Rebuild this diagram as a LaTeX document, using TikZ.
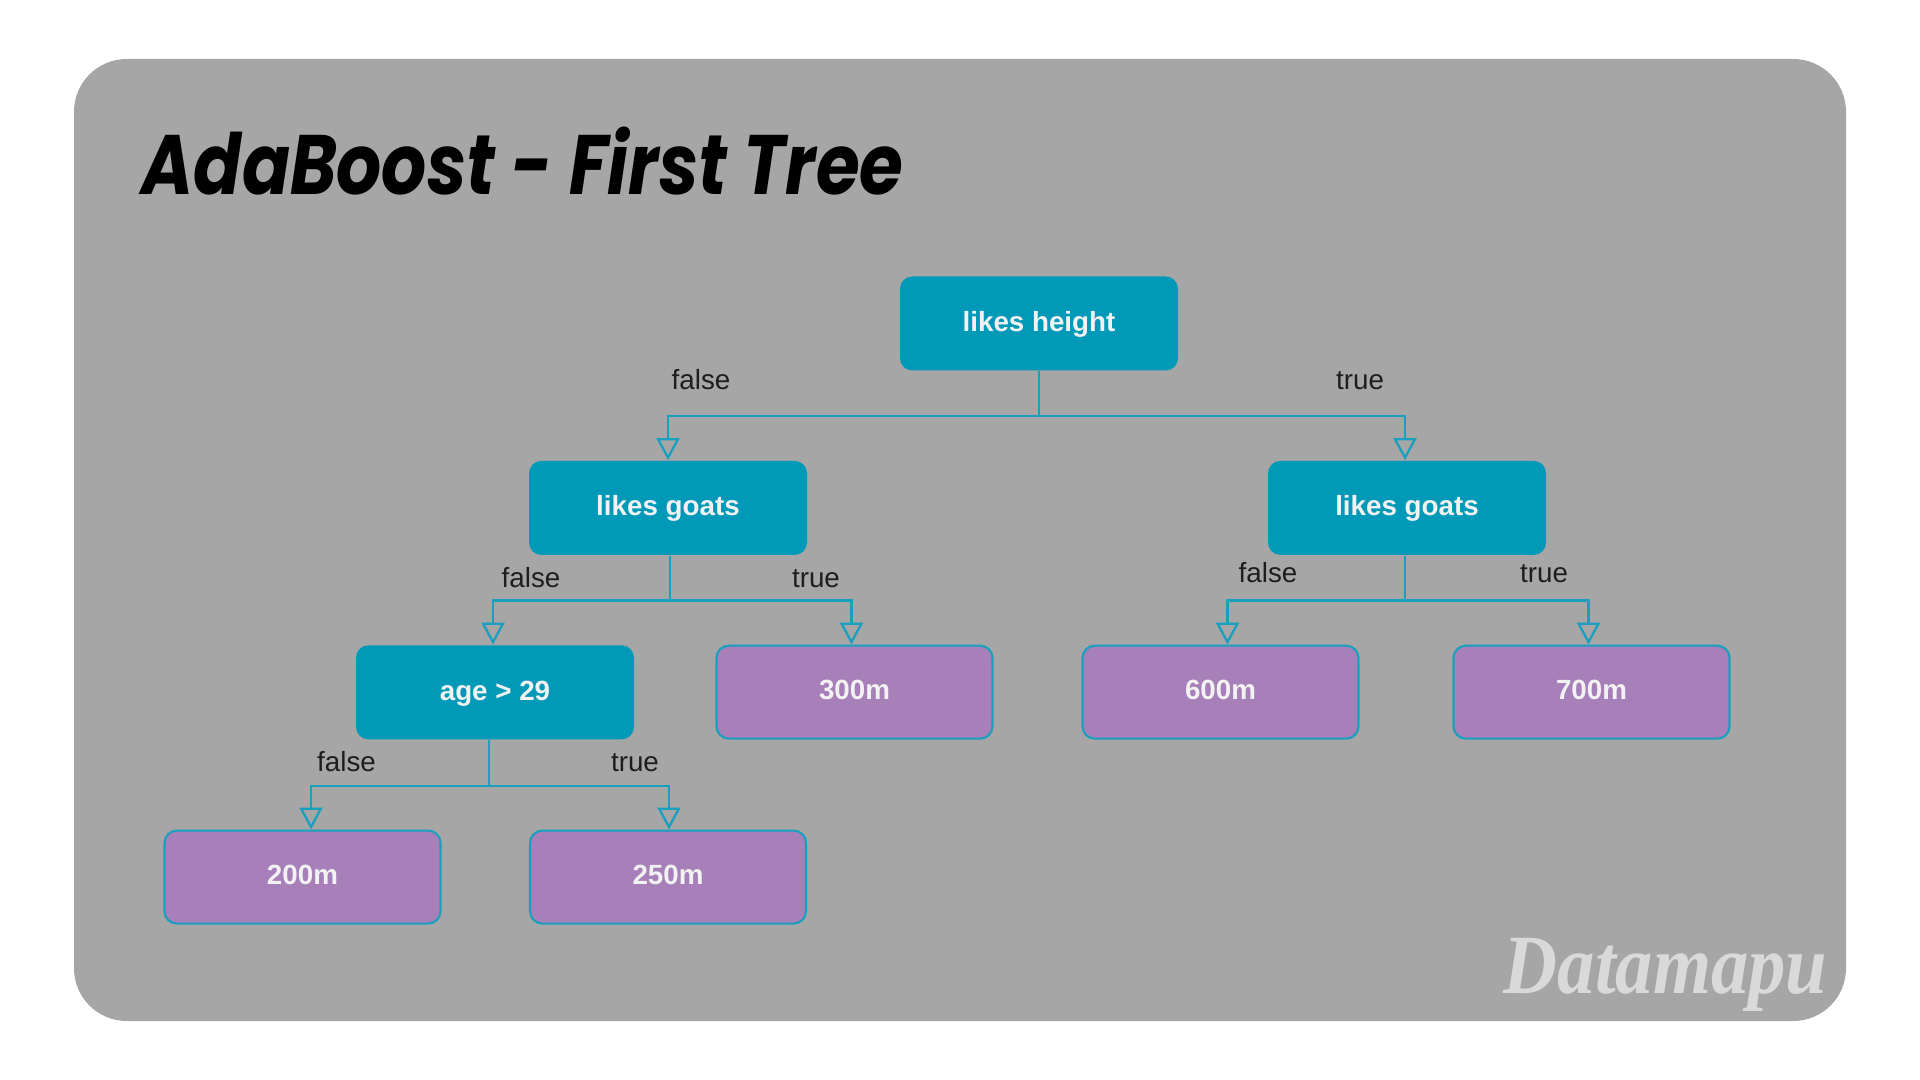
\documentclass[tikz,border=0pt]{standalone}
\usepackage{fontspec}
\usepackage{xcolor}
\setmainfont{Liberation Sans}
\newfontfamily\titlefont[FakeStretch=0.84]{Poppins}
\newfontfamily\brandfont[FakeStretch=0.885]{Liberation Serif}
\usetikzlibrary{
    positioning,
    arrows.meta
}
\definecolor{PanelGray}{RGB}{166,166,166}
\definecolor{SplitTeal}{RGB}{0,154,184}
\definecolor{EdgeTeal}{RGB}{24,160,190}
\definecolor{LeafPurple}{RGB}{167,127,185}
\definecolor{BrandGray}{RGB}{217,217,217}
\definecolor{LabelDark}{RGB}{30,30,30}

\begin{document}
\begin{tikzpicture}[
    split/.style={rectangle, rounded corners=3.5pt, fill=SplitTeal, text=white!95!black, align=center, minimum width=2.78cm, minimum height=0.94cm, inner sep=0pt, text height=5.7pt, text depth=1.3pt, font=\fontsize{7.9}{9.5}\selectfont\bfseries},
    leaf/.style={split, draw=EdgeTeal, line width=0.6pt, fill=LeafPurple, minimum width=2.76cm, minimum height=0.93cm},
    edge/.style={color=EdgeTeal, line width=0.65pt, -{Triangle[open, length=2.2mm, width=2.3mm]}},
    lbl/.style={font=\fontsize{7.9}{9.5}\selectfont, text=LabelDark, inner sep=0pt},
]
\useasboundingbox (0,0) rectangle (19.2,-10.8);
\fill[PanelGray, rounded corners=15pt] (0.74,-0.59) rectangle (18.46,-10.21);

\node[anchor=base west, inner sep=0pt, font=\fontsize{24}{28}\titlefont\bfseries\itshape] (title) at (1.41,-1.95) {AdaBoost - First Tree};
\node[anchor=base east, inner sep=0pt, text=BrandGray, font=\fontsize{24}{28}\brandfont\bfseries\itshape] (brand) at (18.28,-9.93) {Datamapu};

% tree nodes
\node[split] (root) at (10.39,-3.235) {likes height};
\node[split, below=0.89cm of root, xshift=-3.71cm] (goatsl) {likes goats};
\node[split, below=0.89cm of root, xshift=3.68cm] (goatsr) {likes goats};
\node[split, below=0.89cm of goatsl, xshift=-1.73cm] (age) {age > 29};
\node[leaf, below=0.89cm of goatsl, xshift=1.865cm] (m300) {300m};
\node[leaf, below=0.89cm of goatsr, xshift=-1.865cm] (m600) {600m};
\node[leaf, below=0.89cm of goatsr, xshift=1.845cm] (m700) {700m};
\node[leaf, below=0.895cm of age, xshift=-1.925cm] (m200) {200m};
\node[leaf, below=0.895cm of age, xshift=1.73cm] (m250) {250m};

% edges
\draw[edge] (root.south) -- ++(0,-0.45) -| (goatsl.north);
\draw[edge] (root.south) -- ++(0,-0.45) -| ([xshift=-0.02cm]goatsr.north);
\draw[edge] ([xshift=0.02cm]goatsl.south) -- ++(0,-0.45) -| ([xshift=-0.02cm]age.north);
\draw[edge] ([xshift=0.02cm]goatsl.south) -- ++(0,-0.45) -| ([xshift=-0.03cm]m300.north);
\draw[edge] ([xshift=-0.02cm]goatsr.south) -- ++(0,-0.45) -| ([xshift=0.07cm]m600.north);
\draw[edge] ([xshift=-0.02cm]goatsr.south) -- ++(0,-0.45) -| ([xshift=-0.03cm]m700.north);
\draw[edge] ([xshift=-0.06cm]age.south) -- ++(0,-0.46) -| ([xshift=0.085cm]m200.north);
\draw[edge] ([xshift=-0.06cm]age.south) -- ++(0,-0.46) -| ([xshift=0.01cm]m250.north);

% edge labels
\node[lbl] (f1) at (7.01,-3.80) {false};
\node[lbl] (t1) at (13.60,-3.81) {true};
\node[lbl] (f2) at (5.31,-5.78) {false};
\node[lbl] (t2) at (8.16,-5.79) {true};
\node[lbl] (f3) at (12.68,-5.73) {false};
\node[lbl] (t3) at (15.44,-5.74) {true};
\node[lbl] (f4) at (3.465,-7.62) {false};
\node[lbl] (t4) at (6.35,-7.63) {true};
\end{tikzpicture}
\end{document}
